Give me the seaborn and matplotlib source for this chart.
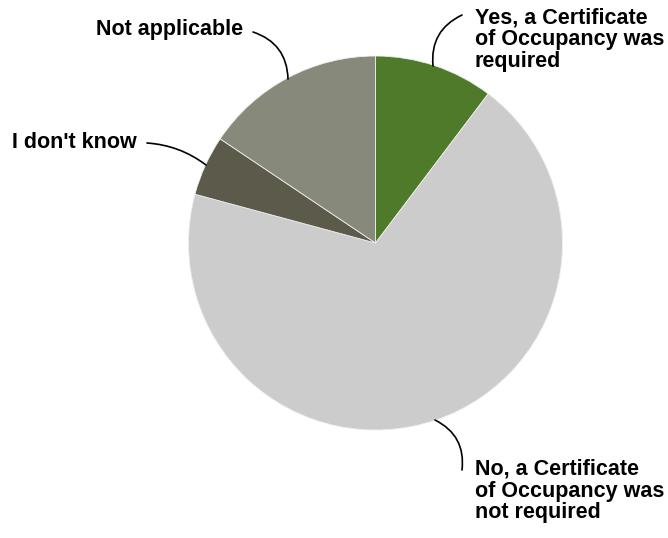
import matplotlib
matplotlib.use("Agg")
import matplotlib.pyplot as plt
import seaborn as sns

# Survey responses: was a Certificate of Occupancy required? (share of respondents, %)
categories = [
    "Yes, a Certificate\nof Occupancy was\nrequired",
    "No, a Certificate\nof Occupancy was\nnot required",
    "I don't know",
    "Not applicable",
]
shares = [10.3, 68.9, 5.2, 15.6]
colors = ["#4E7A29", "#CCCCCC", "#5B5A4B", "#87897A"]

sns.set_theme(style="white")
plt.rcParams["font.family"] = ["Liberation Sans", "DejaVu Sans"]

W, H, DPI = 668, 538, 100
fig = plt.figure(figsize=(W / DPI, H / DPI), dpi=DPI)
ax = fig.add_axes([0, 0, 1, 1])

# pixel layout of the pie: centre and radius
cx, cy, R = 375.5, 243.0, 187.0


def px(x, y):
    """Convert figure pixel coordinates (origin top-left) to data units."""
    return (x - cx) / R, (cy - y) / R


ax.pie(shares, colors=colors, startangle=90, counterclock=False,
       radius=1.0, center=(0, 0),
       wedgeprops=dict(linewidth=0.6, edgecolor="#EEEEEE"))

ax.set_xlim(-cx / R, (W - cx) / R)
ax.set_ylim(-(H - cy) / R, cy / R)
ax.set_aspect("auto")
ax.axis("off")

font = dict(fontsize=15.5, fontweight="bold", color="black", linespacing=1.05)

# labels: (text, anchor pixel, ha, leader start pixel, leader end pixel, curvature)
placements = [
    (categories[0], (475, 40), "left", (462, 15), (433, 66), 0.35),
    (categories[1], (475, 491), "left", (462, 470), (435, 420), 0.35),
    (categories[2], (137, 142), "right", (147, 143), (206, 165), -0.15),
    (categories[3], (243, 30), "right", (253, 32), (288, 79), -0.35),
]

for text, (tx, ty), ha, start, end, rad in placements:
    ax.text(*px(tx, ty), text, ha=ha, va="center", **font)
    ax.annotate("", xy=px(*end), xytext=px(*start),
                arrowprops=dict(arrowstyle="-", color="black", lw=1.2,
                                shrinkA=0, shrinkB=0,
                                connectionstyle=f"arc3,rad={rad}"))

fig.savefig("out.png", dpi=DPI)
